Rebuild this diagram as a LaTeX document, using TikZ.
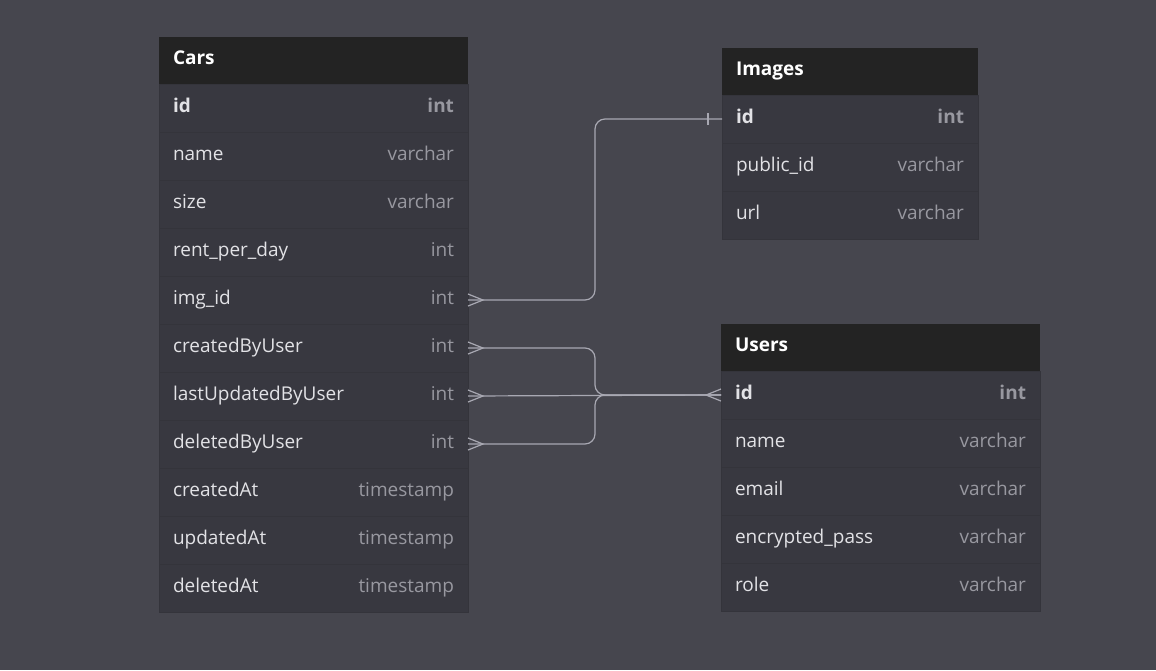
\documentclass[tikz,border=0pt]{standalone}
\usepackage{fontspec}
\setmainfont{Open Sans}
\usetikzlibrary{positioning}

\definecolor{canvas}{RGB}{70,70,78}
\definecolor{tbody}{RGB}{56,56,64}
\definecolor{thead}{RGB}{35,35,35}
\definecolor{tsep}{RGB}{52,52,59}
\definecolor{fname}{RGB}{226,226,230}
\definecolor{ftype}{RGB}{152,152,160}
\definecolor{wire}{RGB}{168,168,178}

\newcommand{\fld}[2]{\strut{\color{fname}#1}\hskip 0pt plus 1filll{\color{ftype}#2}}

\tikzset{
  hdr/.style={fill=thead, text=white, text width=#1, inner xsep=14pt, inner ysep=0pt,
    outer sep=0pt, minimum height=47pt, anchor=north west, font=\fontsize{19}{22}\selectfont\bfseries},
  row/.style={fill=tbody, draw=tsep, text width=#1, inner xsep=14pt, inner ysep=0pt,
    outer sep=0pt, minimum height=48pt, font=\fontsize{19}{22}\selectfont},
  wire/.style={draw=wire, line width=1.2pt},
}

\begin{document}
\begin{tikzpicture}[x=1pt, y=-1pt, node distance=0pt]
\fill[canvas] (0,0) rectangle (1156,670);

% Cars
\node [hdr=281pt] (cars) at (159,37) {Cars\strut};
\node [row=281pt, below=of cars] (cars-id) {\bfseries\fld{id}{int}};
\node [row=281pt, below=of cars-id] (cars-name) {\fld{name}{varchar}};
\node [row=281pt, below=of cars-name] (cars-size) {\fld{size}{varchar}};
\node [row=281pt, below=of cars-size] (cars-rent) {\fld{rent\_per\_day}{int}};
\node [row=281pt, below=of cars-rent] (cars-img) {\fld{img\_id}{int}};
\node [row=281pt, below=of cars-img] (cars-cby) {\fld{createdByUser}{int}};
\node [row=281pt, below=of cars-cby] (cars-uby) {\fld{lastUpdatedByUser}{int}};
\node [row=281pt, below=of cars-uby] (cars-dby) {\fld{deletedByUser}{int}};
\node [row=281pt, below=of cars-dby] (cars-cat) {\fld{createdAt}{timestamp}};
\node [row=281pt, below=of cars-cat] (cars-uat) {\fld{updatedAt}{timestamp}};
\node [row=281pt, below=of cars-uat] (cars-dat) {\fld{deletedAt}{timestamp}};

% Images
\node [hdr=228pt] (images) at (722,48) {Images\strut};
\node [row=228pt, below=of images] (images-id) {\bfseries\fld{id}{int}};
\node [row=228pt, below=of images-id] (images-pid) {\fld{public\_id}{varchar}};
\node [row=228pt, below=of images-pid] (images-url) {\fld{url}{varchar}};

% Users
\node [hdr=291pt] (users) at (721,324) {Users\strut};
\node [row=291pt, below=of users] (users-id) {\bfseries\fld{id}{int}};
\node [row=291pt, below=of users-id] (users-name) {\fld{name}{varchar}};
\node [row=291pt, below=of users-name] (users-email) {\fld{email}{varchar}};
\node [row=291pt, below=of users-email] (users-pass) {\fld{encrypted\_pass}{varchar}};
\node [row=291pt, below=of users-pass] (users-role) {\fld{role}{varchar}};

% relations
\coordinate (imgbend) at (595,200);
\coordinate (userbend) at (595,395);
\draw [wire, rounded corners=10pt] (cars-img.east) -| (imgbend) |- (images-id.west);
\draw [wire, rounded corners=10pt] (cars-cby.east) -| (userbend) -- (users-id.west);
\draw [wire, rounded corners=10pt] (cars-dby.east) -| (userbend) -- (users-id.west);
\draw [wire] (cars-uby.east) -- (users-id.west);

% ends
\draw [wire] ([yshift=6pt]cars-img.east) -- ([xshift=15pt]cars-img.east) -- ([yshift=-6pt]cars-img.east);
\draw [wire] ([yshift=6pt]cars-cby.east) -- ([xshift=15pt]cars-cby.east) -- ([yshift=-6pt]cars-cby.east);
\draw [wire] ([yshift=6pt]cars-uby.east) -- ([xshift=15pt]cars-uby.east) -- ([yshift=-6pt]cars-uby.east);
\draw [wire] ([yshift=6pt]cars-dby.east) -- ([xshift=15pt]cars-dby.east) -- ([yshift=-6pt]cars-dby.east);
\draw [wire] ([yshift=6pt]users-id.west) -- ([xshift=-15pt]users-id.west) -- ([yshift=-6pt]users-id.west);
\draw [wire] ([xshift=-14pt,yshift=6pt]images-id.west) -- ([xshift=-14pt,yshift=-6pt]images-id.west);
\end{tikzpicture}
\end{document}
